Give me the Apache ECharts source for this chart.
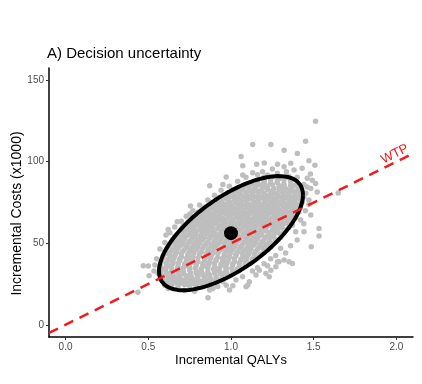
<!DOCTYPE html>
<html><head><meta charset="utf-8">
<script src="https://cdn.jsdelivr.net/npm/echarts@6/dist/echarts.min.js"></script>
<style>html,body{margin:0;padding:0;background:#fff}#c{width:422px;height:384px}</style>
</head><body><div id="c"></div>
<script>
// ---- data ----
const titleText = 'A) Decision uncertainty';
const xTicks = [0, 0.5, 1.0, 1.5, 2.0];
const yTicks = [0, 50, 100, 150];
const wtpLine = [[-0.1, -5], [2.1, 105]];   // WTP = 50 (x1000) per QALY
const wtpLabelPos = [1.99, 104.7];
const meanPoint = [1.0, 56.2];
// ellipse parameters (centre, half-extent in x and y, phase)
const ellCx = 1.0, ellCy = 56.2, ellAx = 0.435, ellAy = 35, ellPhi = 0.84;

// PSA iterations (dense cloud, estimated row by row)
const cloudCore = [
 [1.20,90.5],[1.25,91],[1.29,89.5],[1.34,90.6],
 [1.12,87],[1.16,86.4],[1.20,87.6],[1.24,86.8],[1.28,87.3],[1.32,86.2],[1.36,87.5],[1.40,86.6],
 [1.04,84],[1.08,84.6],[1.11,83.5],[1.15,84.3],[1.19,83.7],[1.22,84.8],[1.26,83.6],[1.30,84.2],[1.33,83.4],[1.37,84.5],[1.41,83.8],
 [0.98,81],[1.02,81.6],[1.05,80.5],[1.09,81.3],[1.13,80.8],[1.16,81.7],[1.20,80.6],[1.24,81.2],[1.27,80.4],[1.31,81.5],[1.35,80.9],[1.38,81.4],[1.42,80.7],
 [0.93,78.2],[0.97,77.6],[1.00,78.5],[1.04,77.8],[1.08,78.3],[1.11,77.4],[1.15,78.6],[1.19,77.9],[1.22,78.1],[1.26,77.5],[1.30,78.4],[1.33,77.7],[1.37,78.2],[1.41,77.6],[1.44,78.3],
 [0.88,75],[0.92,75.6],[0.95,74.5],[0.99,75.3],[1.03,74.8],[1.06,75.7],[1.10,74.6],[1.14,75.2],[1.17,74.4],[1.21,75.5],[1.25,74.9],[1.28,75.4],[1.32,74.7],[1.36,75.6],[1.39,74.6],[1.43,75.1],
 [0.84,72.3],[0.88,71.6],[0.91,72.5],[0.95,71.8],[0.99,72.2],[1.02,71.5],[1.06,72.6],[1.10,71.9],[1.13,72.1],[1.17,71.4],[1.21,72.4],[1.24,71.7],[1.28,72.3],[1.32,71.6],[1.35,72.5],[1.39,71.8],[1.42,72.2],
 [0.80,69],[0.84,69.6],[0.87,68.5],[0.91,69.3],[0.95,68.8],[0.98,69.7],[1.02,68.6],[1.06,69.2],[1.09,68.4],[1.13,69.5],[1.17,68.9],[1.20,69.4],[1.24,68.7],[1.28,69.6],[1.31,68.6],[1.35,69.1],[1.39,68.5],[1.41,69.4],
 [0.77,66.2],[0.81,65.6],[0.84,66.5],[0.88,65.8],[0.92,66.1],[0.95,65.4],[0.99,66.6],[1.03,65.9],[1.06,66.1],[1.10,65.5],[1.14,66.4],[1.17,65.7],[1.21,66.3],[1.25,65.6],[1.28,66.5],[1.32,65.8],[1.36,66.2],[1.39,65.6],
 [0.74,63],[0.78,63.6],[0.81,62.5],[0.85,63.3],[0.89,62.8],[0.92,63.7],[0.96,62.6],[1.00,63.2],[1.03,62.4],[1.07,63.5],[1.11,62.9],[1.14,63.4],[1.18,62.7],[1.22,63.6],[1.25,62.6],[1.29,63.1],[1.33,62.5],[1.37,63.3],
 [0.71,60.3],[0.75,59.6],[0.78,60.5],[0.82,59.8],[0.86,60.1],[0.89,59.5],[0.93,60.6],[0.97,59.9],[1.00,60.2],[1.04,59.4],[1.08,60.4],[1.11,59.7],[1.15,60.3],[1.19,59.6],[1.22,60.5],[1.26,59.8],[1.30,60.2],[1.35,59.6],
 [0.69,57],[0.72,57.6],[0.76,56.5],[0.79,57.3],[0.83,56.8],[0.87,57.7],[0.90,56.6],[0.94,57.2],[0.98,56.4],[1.05,57.5],[1.09,56.9],[1.12,57.4],[1.16,56.7],[1.20,57.6],[1.23,56.6],[1.27,57.1],[1.32,56.5],
 [0.66,54.2],[0.70,53.6],[0.73,54.5],[0.77,53.8],[0.81,54.1],[0.84,53.5],[0.88,54.6],[0.92,53.9],[0.95,54.2],[0.99,53.4],[1.03,54.4],[1.06,53.7],[1.10,54.3],[1.14,53.6],[1.17,54.5],[1.21,53.8],[1.25,54.2],[1.30,53.6],
 [0.64,51],[0.68,51.6],[0.71,50.5],[0.75,51.3],[0.79,50.8],[0.82,51.7],[0.86,50.6],[0.90,51.2],[0.93,50.4],[0.97,51.5],[1.01,50.9],[1.04,51.4],[1.08,50.7],[1.12,51.6],[1.15,50.6],[1.19,51.1],[1.23,50.5],[1.27,51.3],
 [0.62,48.2],[0.66,47.6],[0.69,48.5],[0.73,47.8],[0.77,48.1],[0.80,47.5],[0.84,48.6],[0.88,47.9],[0.91,48.2],[0.95,47.4],[0.99,48.4],[1.02,47.7],[1.06,48.3],[1.10,47.6],[1.13,48.5],[1.17,47.8],[1.21,48.2],[1.24,47.6],
 [0.60,45],[0.64,45.6],[0.67,44.5],[0.71,45.3],[0.75,44.8],[0.78,45.7],[0.82,44.6],[0.86,45.2],[0.89,44.4],[0.93,45.5],[0.97,44.9],[1.00,45.4],[1.04,44.7],[1.08,45.6],[1.11,44.6],[1.15,45.1],[1.20,44.5],
 [0.59,42.2],[0.63,41.6],[0.66,42.5],[0.70,41.8],[0.74,42.1],[0.77,41.5],[0.81,42.6],[0.85,41.9],[0.88,42.2],[0.92,41.4],[0.96,42.4],[0.99,41.7],[1.03,42.3],[1.07,41.6],[1.10,42.5],[1.14,41.8],[1.17,42.2],
 [0.58,39],[0.62,39.6],[0.65,38.5],[0.69,39.3],[0.73,38.8],[0.76,39.7],[0.80,38.6],[0.84,39.2],[0.87,38.4],[0.91,39.5],[0.95,38.9],[0.98,39.4],[1.02,38.7],[1.06,39.6],[1.09,38.6],[1.13,39.1],
 [0.57,36.2],[0.61,35.6],[0.64,36.5],[0.68,35.8],[0.72,36.1],[0.75,35.5],[0.79,36.6],[0.83,35.9],[0.86,36.2],[0.90,35.4],[0.94,36.4],[0.97,35.7],[1.01,36.3],[1.05,35.6],[1.09,36.2],
 [0.57,33],[0.60,33.6],[0.64,32.5],[0.68,33.3],[0.71,32.8],[0.75,33.7],[0.79,32.6],[0.82,33.2],[0.86,32.4],[0.90,33.5],[0.93,32.9],[0.97,33.4],[1.01,32.7],[1.04,33.3],
 [0.58,30.2],[0.62,29.6],[0.65,30.5],[0.69,29.8],[0.73,30.1],[0.76,29.5],[0.80,30.6],[0.84,29.9],[0.87,30.2],[0.91,29.4],[0.95,30.4],[0.98,29.7],
 [0.60,27],[0.64,27.6],[0.67,26.5],[0.71,27.3],[0.75,26.8],[0.78,27.7],[0.82,26.6],[0.86,27.2],[0.89,26.4],[0.93,27.5],
 [0.64,24.2],[0.68,23.6],[0.72,24.5],[0.75,23.8],[0.79,24.1],[0.83,23.5],[0.86,24.3]
];
// more iterations between the rows above (the cloud is very dense)
const cloudFill = [
 [1.16,88.7],[1.20,88.3],[1.24,88.9],[1.28,88.4],[1.32,88.8],[1.36,88.2],
 [1.07,85.3],[1.11,85.8],[1.14,85.2],[1.18,85.7],[1.21,85.4],[1.25,85.9],[1.29,85.3],[1.32,85.6],[1.36,85.2],[1.39,85.8],
 [1.01,82.7],[1.04,82.3],[1.07,82.8],[1.11,82.2],[1.14,82.6],[1.18,82.4],[1.22,82.9],[1.25,82.3],[1.29,82.7],[1.33,82.2],[1.36,82.8],[1.40,82.4],
 [0.955,79.4],[0.99,79.8],[1.02,79.3],[1.06,79.7],[1.10,79.2],[1.13,79.8],[1.17,79.4],[1.21,79.6],[1.24,79.2],[1.28,79.9],[1.32,79.3],[1.35,79.7],[1.39,79.4],[1.42,79.8],
 [0.91,76.6],[0.945,76.2],[0.98,76.8],[1.02,76.3],[1.055,76.7],[1.09,76.2],[1.13,76.9],[1.165,76.4],[1.20,76.6],[1.24,76.1],[1.275,76.8],[1.31,76.3],[1.35,76.7],[1.385,76.2],[1.42,76.6],
 [0.865,73.4],[0.90,73.8],[0.935,73.2],[0.97,73.7],[1.005,73.3],[1.04,73.9],[1.08,73.4],[1.115,73.6],[1.15,73.2],[1.19,73.8],[1.225,73.3],[1.26,73.7],[1.30,73.4],[1.335,73.9],[1.37,73.2],[1.405,73.6],
 [0.825,70.6],[0.86,70.2],[0.895,70.8],[0.93,70.3],[0.965,70.7],[1.00,70.2],[1.04,70.9],[1.075,70.4],[1.11,70.6],[1.15,70.1],[1.185,70.8],[1.22,70.3],[1.26,70.7],[1.295,70.2],[1.33,70.6],[1.37,70.3],[1.40,70.8],
 [0.79,67.4],[0.825,67.8],[0.86,67.2],[0.895,67.7],[0.93,67.3],[0.965,67.9],[1.00,67.4],[1.04,67.6],[1.075,67.2],[1.11,67.8],[1.15,67.3],[1.185,67.7],[1.22,67.4],[1.26,67.9],[1.295,67.2],[1.33,67.6],[1.37,67.3],
 [0.76,64.6],[0.795,64.2],[0.83,64.8],[0.865,64.3],[0.90,64.7],[0.94,64.2],[0.975,64.9],[1.01,64.4],[1.05,64.6],[1.085,64.1],[1.12,64.8],[1.16,64.3],[1.195,64.7],[1.23,64.2],[1.27,64.6],[1.305,64.3],[1.34,64.8],[1.375,64.4],
 [0.725,61.4],[0.76,61.8],[0.795,61.2],[0.835,61.7],[0.87,61.3],[0.905,61.9],[0.945,61.4],[0.98,61.6],[1.02,61.2],[1.055,61.8],[1.09,61.3],[1.13,61.7],[1.165,61.4],[1.20,61.9],[1.24,61.2],[1.275,61.6],[1.31,61.3],[1.35,61.8],
 [0.70,58.6],[0.735,58.2],[0.77,58.8],[0.81,58.3],[0.845,58.7],[0.88,58.2],[0.92,58.9],[0.955,58.4],[0.99,58.6],[1.03,58.1],[1.065,58.8],[1.10,58.3],[1.14,58.7],[1.175,58.2],[1.21,58.6],[1.25,58.3],[1.285,58.8],[1.32,58.4],
 [0.675,55.4],[0.71,55.8],[0.745,55.2],[0.785,55.7],[0.82,55.3],[0.855,55.9],[0.895,55.4],[0.93,55.6],[0.965,55.2],[1.005,55.8],[1.04,55.3],[1.075,55.7],[1.115,55.4],[1.15,55.9],[1.185,55.2],[1.225,55.6],[1.26,55.3],[1.295,55.8],
 [0.65,52.6],[0.685,52.2],[0.72,52.8],[0.76,52.3],[0.795,52.7],[0.83,52.2],[0.87,52.9],[0.905,52.4],[0.94,52.6],[0.98,52.1],[1.015,52.8],[1.05,52.3],[1.09,52.7],[1.125,52.2],[1.16,52.6],[1.20,52.3],[1.235,52.8],[1.27,52.4],
 [0.63,49.4],[0.665,49.8],[0.70,49.2],[0.74,49.7],[0.775,49.3],[0.81,49.9],[0.85,49.4],[0.885,49.6],[0.92,49.2],[0.96,49.8],[0.995,49.3],[1.03,49.7],[1.07,49.4],[1.105,49.9],[1.14,49.2],[1.18,49.6],[1.215,49.3],[1.25,49.8],
 [0.61,46.6],[0.645,46.2],[0.68,46.8],[0.72,46.3],[0.755,46.7],[0.79,46.2],[0.83,46.9],[0.865,46.4],[0.90,46.6],[0.94,46.1],[0.975,46.8],[1.01,46.3],[1.05,46.7],[1.085,46.2],[1.12,46.6],[1.16,46.3],[1.195,46.8],[1.225,46.4],
 [0.595,43.4],[0.63,43.8],[0.665,43.2],[0.70,43.7],[0.74,43.3],[0.775,43.9],[0.81,43.4],[0.85,43.6],[0.885,43.2],[0.92,43.8],[0.96,43.3],[0.995,43.7],[1.03,43.4],[1.07,43.9],[1.105,43.2],[1.14,43.6],[1.18,43.3],
 [0.585,40.6],[0.62,40.2],[0.655,40.8],[0.69,40.3],[0.73,40.7],[0.765,40.2],[0.80,40.9],[0.84,40.4],[0.875,40.6],[0.91,40.1],[0.95,40.8],[0.985,40.3],[1.02,40.7],[1.06,40.2],[1.095,40.6],[1.13,40.3],[1.155,40.8],
 [0.575,37.4],[0.61,37.8],[0.645,37.2],[0.68,37.7],[0.72,37.3],[0.755,37.9],[0.79,37.4],[0.83,37.6],[0.865,37.2],[0.90,37.8],[0.94,37.3],[0.975,37.7],[1.01,37.4],[1.05,37.9],[1.085,37.2],[1.115,37.6],
 [0.57,34.6],[0.605,34.2],[0.64,34.8],[0.675,34.3],[0.71,34.7],[0.75,34.2],[0.785,34.9],[0.82,34.4],[0.86,34.6],[0.895,34.1],[0.93,34.8],[0.97,34.3],[1.005,34.7],[1.04,34.2],[1.07,34.6],
 [0.575,31.4],[0.61,31.8],[0.645,31.2],[0.68,31.7],[0.715,31.3],[0.755,31.9],[0.79,31.4],[0.825,31.6],[0.865,31.2],[0.90,31.8],[0.935,31.3],[0.975,31.7],[1.01,31.4],
 [0.585,28.6],[0.62,28.2],[0.655,28.8],[0.69,28.3],[0.73,28.7],[0.765,28.2],[0.80,28.9],[0.84,28.4],[0.875,28.6],[0.91,28.1],[0.95,28.8],
 [0.62,25.4],[0.655,25.8],[0.69,25.2],[0.735,25.7],[0.77,25.3],[0.81,25.9],[0.845,25.4],[0.88,25.6]
];
// scattered iterations around and outside the ellipse
const cloudOuter = [
 [1.511,124.9],[1.131,110.6],[1.241,110.6],[1.451,112.6],[1.321,107.1],[1.401,105.1],
 [1.061,103.2],[1.071,97.6],[1.071,91.8],[1.155,98.5],[1.201,99.3],[1.281,98.5],
 [1.321,96.9],[1.361,99.0],[1.381,94.9],[1.335,93.8],[1.471,100.6],[1.507,97.9],
 [0.971,90.7],[1.131,93.2],[1.191,93.8],[1.221,91.8],[0.871,85.2],[0.951,86.1],
 [1.461,89.8],[1.491,88.7],[1.511,86.7],[1.482,83.6],[1.452,80.6],[1.471,76.5],
 [1.521,81.5],[1.431,77.5],[1.648,80.9],[1.532,59.1],[1.532,54.4],[1.485,47.8],
 [1.482,67.3],[1.421,64.2],[1.371,61.1],[1.391,57.0],[1.441,57.0],[1.471,73.8],
 [1.371,37.6],[1.321,39.7],[1.271,35.6],[1.211,31.5],[1.231,29.4],[1.241,33.5],
 [1.281,38.6],[1.351,38.6],[1.291,38.6],[1.151,30.5],[1.171,33.5],[1.221,36.2],
 [1.111,26.4],[1.091,23.3],[0.991,21.3],[0.891,22.3],[1.011,23.9],[1.101,24.3],
 [0.861,16.6],[0.871,21.3],[0.971,24.3],[0.791,26.4],[0.831,30.5],[0.951,31.5],
 [0.755,72.8],[0.831,68.3],[0.751,67.9],[0.675,63.2],[0.607,55.0],[0.62,58.5],
 [0.54,36.6],[0.58,34.6],[0.56,31.5],[0.60,24.3],[0.62,22.3],[0.58,27.8],
 [0.437,19.9],[0.47,36.2],[0.50,36.0],[0.535,33.0],[0.505,30.0],[0.55,40.5],
 [1.40,90.5],[1.44,86.0],[1.46,84.5],[1.45,70.0],[1.44,62.0],[1.40,52.0],
 [1.36,48.5],[1.33,44.0],[1.30,47.0],[1.27,42.5],[1.24,40.5],[1.20,37.5],
 [1.16,35.0],[1.13,33.0],[1.07,29.5],[1.03,27.5],[0.95,26.5],[0.92,23.5],
 [0.72,21.0],[0.78,20.5],[0.66,29.0],[0.62,43.5],[0.57,46.5],[0.60,50.5],
 [0.63,56.5],[0.66,60.0],[0.70,63.5],[0.73,66.5],[0.77,70.0],[0.81,73.5],
 [0.86,76.5],[0.90,79.5],[0.94,82.5],[0.99,85.0],[1.04,88.0],[1.09,90.5],
 [1.16,92.0],[1.28,93.0],[1.35,91.0],[1.48,92.5],[1.43,96.0],[1.25,95.5]
];

const cloud = cloudCore.concat(cloudFill, cloudOuter);

// confidence ellipse outline built from its parameters
const ellipse = [];
for (let i = 0; i <= 180; i++) {
  const t = i / 180 * 2 * Math.PI;
  ellipse.push([ellCx + ellAx * Math.cos(t), ellCy + ellAy * Math.cos(t - ellPhi)]);
}

const font = 'Liberation Sans, Arial, sans-serif';
const chart = echarts.init(document.getElementById('c'), null, {renderer: 'canvas'});
chart.setOption({
  animation: false,
  backgroundColor: '#ffffff',
  title: {
    text: titleText, left: 47, top: 46, padding: 0,
    textStyle: {fontFamily: font, fontSize: 15, fontWeight: 'normal', color: '#000'}
  },
  grid: {left: 49, top: 68, right: 9, bottom: 47, containLabel: false, outerBoundsMode: 'none'},
  xAxis: {
    type: 'value', min: -0.1, max: 2.1,
    name: 'Incremental QALYs', nameLocation: 'middle', nameGap: 17, nameMoveOverlap: false,
    nameTextStyle: {fontFamily: font, fontSize: 13, color: '#000'},
    splitLine: {show: false},
    axisLine: {show: true, onZero: false, lineStyle: {color: '#000', width: 1.5}},
    axisTick: {show: true, length: 3, customValues: xTicks, lineStyle: {color: '#333'}},
    axisLabel: {customValues: xTicks, margin: 5, fontFamily: font, fontSize: 10, color: '#4d4d4d',
      formatter: v => v.toFixed(1)}
  },
  yAxis: {
    type: 'value', min: -7.5, max: 157.5,
    name: 'Incremental Costs (x1000)', nameLocation: 'middle', nameGap: 25, nameMoveOverlap: false,
    nameTextStyle: {fontFamily: font, fontSize: 14, color: '#000', padding: [0, 22, 0, 0]},
    splitLine: {show: false},
    axisLine: {show: true, onZero: false, lineStyle: {color: '#000', width: 1.5}},
    axisTick: {show: true, length: 3, customValues: yTicks, lineStyle: {color: '#333'}},
    axisLabel: {customValues: yTicks, margin: 5, fontFamily: font, fontSize: 10, color: '#4d4d4d'}
  },
  series: [
    {type: 'scatter', data: cloud, symbolSize: 5.5, large: false, itemStyle: {color: '#bebebe', opacity: 1}, silent: true, z: 1},
    {type: 'line', data: ellipse, showSymbol: false, smooth: false, lineStyle: {color: '#000', width: 4}, silent: true, z: 3},
    {type: 'line', data: wtpLine, showSymbol: false, lineStyle: {color: '#ee1c1c', width: 2.5, type: [10, 7]}, silent: true, z: 4},
    {type: 'scatter', data: [wtpLabelPos], symbolSize: 0, silent: true, z: 5, itemStyle: {opacity: 1},
      label: {show: true, position: 'inside', formatter: 'WTP', rotate: 26, color: '#ee1c1c', fontFamily: font, fontSize: 13}},
    {type: 'scatter', data: [meanPoint], symbolSize: 14, itemStyle: {color: '#000', opacity: 1}, silent: true, z: 6}
  ]
});
</script>
</body></html>
